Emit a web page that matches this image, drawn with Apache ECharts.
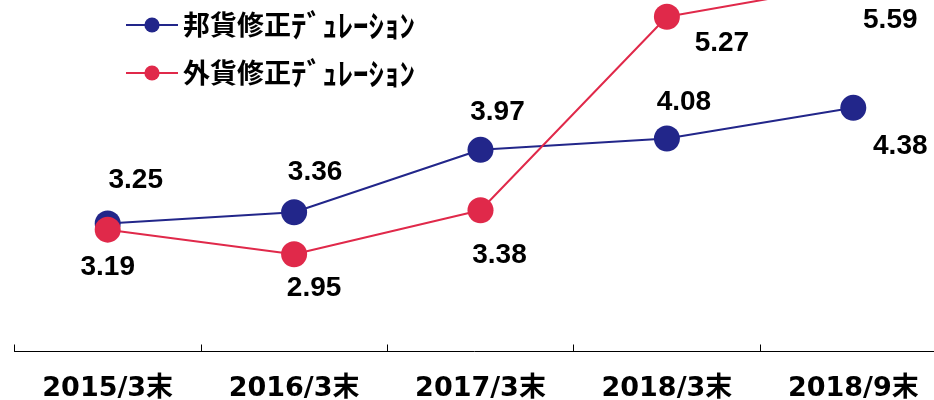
<!DOCTYPE html>
<html lang="ja">

<head>
    <meta charset="UTF-8">
    <title>修正デュレーション</title>
    <script src="https://cdn.jsdelivr.net/npm/echarts@6/dist/echarts.min.js"></script>
    <style>
        body {
            margin: 0;
        }

        #root {
            width: 934px;
            height: 400px;
        }
    </style>
</head>

<body>

    <div id="root"></div>
    <script>

        var categories = ['2015/3末', '2016/3末', '2017/3末', '2018/3末', '2018/9末'];
        var yenNames = '邦貨修正ﾃﾞｭﾚｰｼｮﾝ';
        var fxNames = '外貨修正ﾃﾞｭﾚｰｼｮﾝ';
        var yenDuration = [3.25, 3.36, 3.97, 4.08, 4.38];
        var fxDuration = [3.19, 2.95, 3.38, 5.27, 5.59];

        // ラベルの位置（点からのずれ）
        var yenLabelOffset = [[28, -43], [21, -40], [17, -38], [17, -36], [47, 38]];
        var fxLabelOffset = [[0, 38], [20, 34], [19, 45], [55, 27], [37, 36]];

        var BLUE = '#22268a';
        var RED = '#e0294a';
        var numFont = '"Liberation Sans", Arial, sans-serif';
        var jpFont = '"Noto Sans CJK JP", sans-serif';

        function withLabels(values, offsets) {
            return values.map(function (v, i) {
                return {
                    value: v,
                    label: { offset: offsets[i] }
                };
            });
        }

        // 漢字とｶﾀｶﾅで文字サイズを分ける
        function legendText(name) {
            return '{k|' + name.slice(0, 4) + '}{h|' + name.slice(4) + '}';
        }

        var mychart = echarts.init(document.getElementById('root'));

        mychart.setOption({
            animation: false,
            grid: {
                left: 14.5,
                right: -12.5,
                top: -58,
                bottom: 48.5,
                outerBoundsMode: 'none',
                containLabel: false
            },
            legend: {
                left: 120,
                top: 4.5,
                orient: 'vertical',
                itemWidth: 52,
                itemHeight: 19,
                itemGap: 17,
                itemTextGap: 4,
                formatter: legendText,
                textStyle: {
                    fontFamily: jpFont,
                    fontWeight: 'bold',
                    fontSize: 27,
                    lineHeight: 30,
                    color: '#000',
                    rich: {
                        k: { fontFamily: jpFont, fontWeight: 'bold', fontSize: 27, lineHeight: 30, color: '#000' },
                        h: { fontFamily: jpFont, fontWeight: 'bold', fontSize: 31, lineHeight: 30, color: '#000' }
                    }
                },
                data: [yenNames, fxNames]
            },
            xAxis: {
                type: 'category',
                data: categories,
                boundaryGap: true,
                axisLine: { lineStyle: { color: '#000', width: 1 } },
                axisTick: { show: true, inside: true, length: 7, lineStyle: { color: '#000' } },
                axisLabel: {
                    margin: 24,
                    fontFamily: '"DejaVu Sans", ' + jpFont,
                    fontWeight: 'bold',
                    fontSize: 27,
                    color: '#000'
                }
            },
            yAxis: {
                type: 'value',
                min: 2,
                max: 6,
                show: false,
                splitLine: { show: false }
            },
            series: [{
                name: yenNames,
                type: 'line',
                data: withLabels(yenDuration, yenLabelOffset),
                symbol: 'circle',
                symbolSize: 26,
                color: BLUE,
                lineStyle: { width: 2, color: BLUE },
                label: {
                    show: true,
                    position: 'inside',
                    fontFamily: numFont,
                    fontWeight: 'bold',
                    fontSize: 28,
                    color: '#000',
                    formatter: function (p) { return p.value.toFixed(2); }
                }
            }, {
                name: fxNames,
                type: 'line',
                data: withLabels(fxDuration, fxLabelOffset),
                symbol: 'circle',
                symbolSize: 26,
                color: RED,
                lineStyle: { width: 2, color: RED },
                label: {
                    show: true,
                    position: 'inside',
                    fontFamily: numFont,
                    fontWeight: 'bold',
                    fontSize: 28,
                    color: '#000',
                    formatter: function (p) { return p.value.toFixed(2); }
                }
            }]
        });

    </script>

</body>

</html>
